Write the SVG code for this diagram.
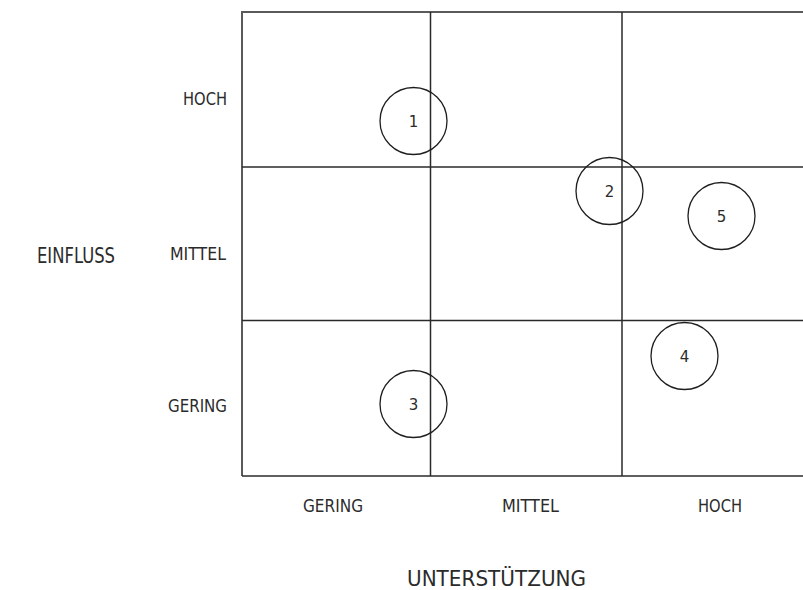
<svg xmlns="http://www.w3.org/2000/svg" width="803" height="590" viewBox="0 0 803 590">
  <style>
    .frame { stroke: #5a5a5a; stroke-width: 2; fill: none; }
    .grid { stroke: #2a2a2a; stroke-width: 1.5; fill: none; }
    .bubble { stroke: #1e1e1e; stroke-width: 1.3; fill: none; }
    .lbl { font-family: "DejaVu Sans", "Liberation Sans", sans-serif; font-size: 17px; fill: #2b2b2b; }
    .axis { font-family: "DejaVu Sans", "Liberation Sans", sans-serif; font-size: 22px; fill: #2b2b2b; }
    .num { font-family: "DejaVu Sans", "Liberation Sans", sans-serif; font-size: 15px; fill: #2b2b2b; text-anchor: middle; }
  </style>

  <!-- matrix grid -->
  <g id="grid">
    <polyline class="frame" points="803,12 242,12 242,476"/>
    <line class="grid" x1="242" y1="476" x2="803" y2="476"/>
    <line class="grid" x1="430.5" y1="12" x2="430.5" y2="476"/>
    <line class="grid" x1="622" y1="12" x2="622" y2="476"/>
    <line class="grid" x1="242" y1="167" x2="803" y2="167"/>
    <line class="grid" x1="242" y1="320.5" x2="803" y2="320.5"/>
  </g>

  <!-- row labels (Einfluss) -->
  <g id="row-labels">
    <text class="lbl" x="183" y="105" textLength="44" lengthAdjust="spacingAndGlyphs">HOCH</text>
    <text class="lbl" x="170" y="260" textLength="56" lengthAdjust="spacingAndGlyphs">MITTEL</text>
    <text class="lbl" x="168" y="412" textLength="59" lengthAdjust="spacingAndGlyphs">GERING</text>
  </g>

  <!-- column labels (Unterstützung) -->
  <g id="col-labels">
    <text class="lbl" x="303" y="512" textLength="60" lengthAdjust="spacingAndGlyphs">GERING</text>
    <text class="lbl" x="502" y="512" textLength="57" lengthAdjust="spacingAndGlyphs">MITTEL</text>
    <text class="lbl" x="698" y="512" textLength="44" lengthAdjust="spacingAndGlyphs">HOCH</text>
  </g>

  <!-- axis titles -->
  <g id="axis-titles">
    <text class="axis" x="37" y="263" textLength="78" lengthAdjust="spacingAndGlyphs">EINFLUSS</text>
    <text class="axis" x="407" y="586" textLength="179" lengthAdjust="spacingAndGlyphs">UNTERSTÜTZUNG</text>
  </g>

  <!-- stakeholder bubbles -->
  <g id="node-1">
    <circle class="bubble" cx="413.5" cy="121" r="33.5"/>
    <text class="num" x="413.5" y="127">1</text>
  </g>
  <g id="node-2">
    <circle class="bubble" cx="609.5" cy="191" r="33.5"/>
    <text class="num" x="609.5" y="197">2</text>
  </g>
  <g id="node-3">
    <circle class="bubble" cx="413.5" cy="404" r="33.5"/>
    <text class="num" x="413.5" y="410">3</text>
  </g>
  <g id="node-4">
    <circle class="bubble" cx="684.5" cy="356" r="33.5"/>
    <text class="num" x="684.5" y="362">4</text>
  </g>
  <g id="node-5">
    <circle class="bubble" cx="721.5" cy="216" r="33.5"/>
    <text class="num" x="721.5" y="222">5</text>
  </g>
</svg>
